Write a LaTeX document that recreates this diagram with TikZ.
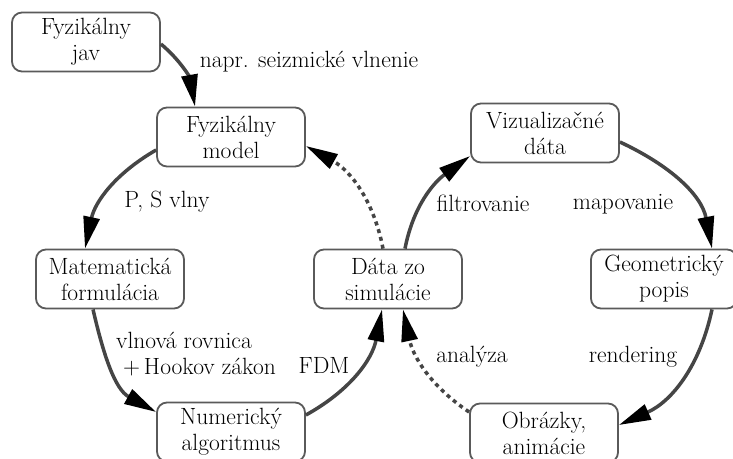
\documentclass[tikz,border=0pt]{standalone}
\usetikzlibrary{arrows.meta}
\definecolor{boxgray}{HTML}{5A5A5A}
\definecolor{arcgray}{HTML}{454545}
\begin{document}
\begin{tikzpicture}[x=1pt,y=1pt,
  box/.style={draw=boxgray, line width=1.8pt, rounded corners=10pt, minimum width=148pt, minimum height=59pt, align=center, inner sep=1pt, font=\rmfamily\fontsize{23.5}{26}\selectfont},
  lbl/.style={font=\rmfamily\fontsize{23.5}{26}\selectfont, inner sep=0pt},
  flow/.style={draw=arcgray, line width=3.5pt, -{Triangle[length=32pt,width=16pt,color=black]}},
  back/.style={flow, dash pattern=on 4pt off 4pt}]
\fill[white] (0,0) rectangle (733,-458);
\useasboundingbox (0,0) rectangle (733,-458);

\node[box] (jav) at (86,-42) {Fyzikálny\\jav};
\node[box] (model) at (231,-137) {Fyzikálny\\model};
\node[box] (mat) at (110,-279) {Matematická\\formulácia};
\node[box] (num) at (231,-432) {Numerický\\algoritmus};
\node[box] (data) at (388,-279) {Dáta zo\\simulácie};
\node[box] (vis) at (545,-133) {Vizualizačné\\dáta};
\node[box, minimum width=146pt] (geo) at (664,-279) {Geometrický\\popis};
\node[box] (obr) at (544,-433) {Obrázky,\\animácie};

\draw[flow] ([yshift=-2pt]jav.east) to[out=-40,in=100] ([xshift=-36pt]model.north);
\draw[flow] ([yshift=-13pt]model.west) to[out=210,in=78] ([xshift=-25pt]mat.north);
\draw[flow] ([xshift=-17pt]mat.south) to[out=283,in=151] ([yshift=20pt]num.west);
\draw[flow] ([yshift=17pt]num.east) to[out=29,in=259] ([xshift=-6pt]data.south);
\draw[back] ([xshift=-5pt]data.north) to[out=101,in=-29] ([yshift=-9pt]model.east);

\draw[flow] ([xshift=17pt]data.north) to[out=79,in=216] ([yshift=-23pt]vis.west);
\draw[flow] ([yshift=-9pt]vis.east) to[out=-25,in=101] ([xshift=48pt]geo.north);
\draw[flow] ([xshift=48pt]geo.south) to[out=258,in=24] ([yshift=8pt]obr.east);
\draw[back] ([yshift=21pt]obr.west) to[out=146,in=282] ([xshift=15pt]data.south);

\node[lbl] (l1) at (309,-62) {napr. seizmické vlnenie};
\node[lbl] (l2) at (167,-202) {P, S vlny};
\node[lbl, align=left] (l3) at (196,-354) {vlnová rovnica\\\hspace{7pt}+\,Hookov zákon};
\node[lbl] (l4) at (324,-365) {FDM};
\node[lbl] (l5) at (483,-203) {filtrovanie};
\node[lbl] (l6) at (623,-204) {mapovanie};
\node[lbl] (l7) at (472,-357) {analýza};
\node[lbl] (l8) at (633,-357) {rendering};
\end{tikzpicture}
\end{document}
